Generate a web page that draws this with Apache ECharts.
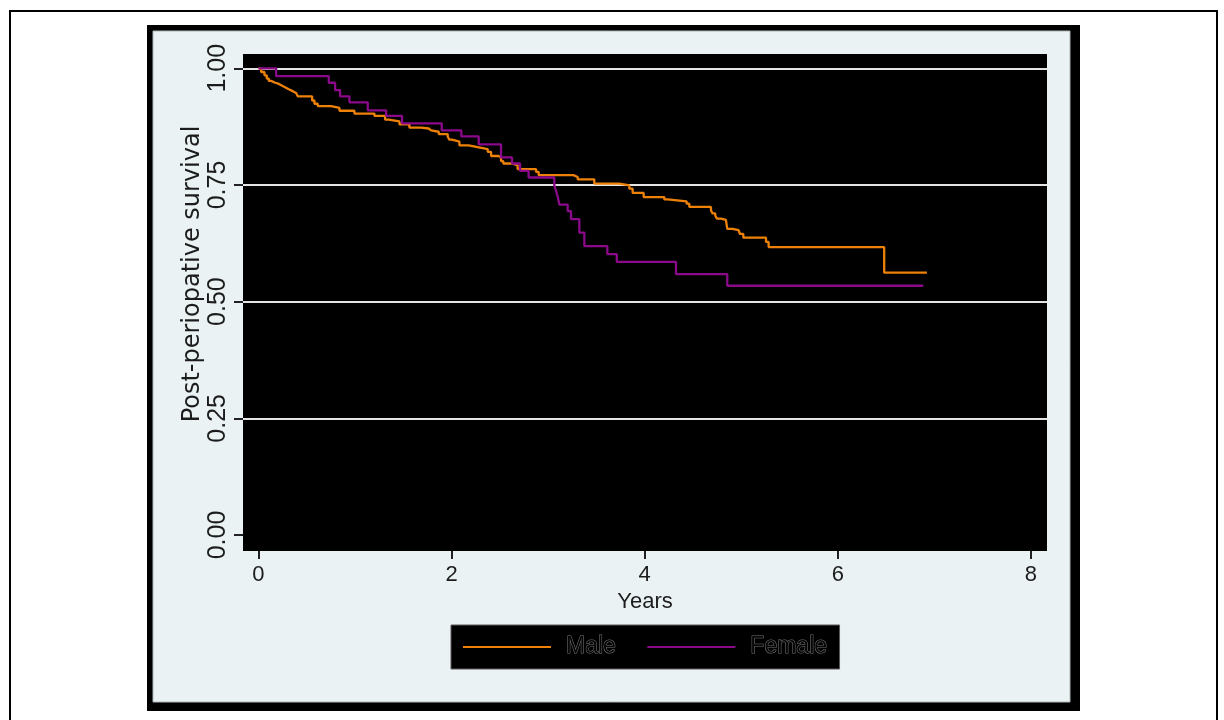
<!DOCTYPE html>
<html><head><meta charset="utf-8">
<script src="https://cdn.jsdelivr.net/npm/echarts@6/dist/echarts.min.js"></script>
<style>html,body{margin:0;padding:0;background:#fff}#c{width:1224px;height:720px}</style>
</head><body><div id="c"></div>
<script>
const seriesNames = ['Male', 'Female'];
const maleTime = [0, 0.028, 0.062, 0.086, 0.107, 0.131, 0.173, 0.207, 0.241, 0.280, 0.314, 0.355, 0.390, 0.407, 0.556, 0.580, 0.614, 0.752, 0.839, 0.994, 1.201, 1.311, 1.349, 1.460, 1.563, 1.684, 1.763, 1.788, 1.867, 1.960, 1.977, 2.005, 2.081, 2.177, 2.270, 2.374, 2.409, 2.488, 2.512, 2.536, 2.626, 2.684, 2.875, 2.902, 3.261, 3.306, 3.478, 3.737, 3.841, 3.875, 3.989, 4.203, 4.237, 4.434, 4.462, 4.686, 4.703, 4.731, 4.748, 4.790, 4.841, 4.855, 4.910, 4.972, 4.987, 5.021, 5.256, 5.283, 6.480, 6.922];
const maleSurv = [1, 0.992, 0.985, 0.978, 0.973, 0.969, 0.967, 0.963, 0.959, 0.955, 0.951, 0.947, 0.944, 0.940, 0.931, 0.924, 0.919, 0.915, 0.909, 0.903, 0.898, 0.890, 0.886, 0.880, 0.873, 0.871, 0.867, 0.864, 0.859, 0.854, 0.847, 0.843, 0.835, 0.831, 0.827, 0.821, 0.812, 0.809, 0.801, 0.796, 0.792, 0.784, 0.778, 0.771, 0.767, 0.762, 0.753, 0.749, 0.742, 0.733, 0.724, 0.719, 0.715, 0.710, 0.703, 0.696, 0.689, 0.684, 0.678, 0.675, 0.671, 0.656, 0.653, 0.651, 0.645, 0.637, 0.628, 0.617, 0.562, 0.562];
const femaleTime = [0, 0.183, 0.728, 0.794, 0.846, 0.942, 1.132, 1.322, 1.487, 1.898, 2.101, 2.281, 2.512, 2.626, 2.709, 2.798, 3.064, 3.082, 3.100, 3.116, 3.202, 3.237, 3.323, 3.375, 3.613, 3.711, 4.324, 4.855, 6.884];
const femaleSurv = [1, 0.983, 0.969, 0.953, 0.940, 0.927, 0.910, 0.898, 0.882, 0.867, 0.854, 0.837, 0.809, 0.796, 0.780, 0.766, 0.749, 0.737, 0.724, 0.708, 0.694, 0.677, 0.648, 0.619, 0.602, 0.585, 0.559, 0.534, 0.534];
const xTicks = [0, 2, 4, 6, 8];
const yTicks = [0, 0.25, 0.5, 0.75, 1];
const xTitle = 'Years';
const yTitle = 'Post-periopative survival';

const zip = (a, b) => a.map((v, i) => [v, b[i]]);
const txt = '#1c1c1c';
const chart = echarts.init(document.getElementById('c'), null, {renderer: 'canvas'});
chart.setOption({
  animation: false,
  backgroundColor: '#ffffff',
  grid: {left: 243, top: 54, right: 177, bottom: 169, show: true, backgroundColor: '#000000', borderWidth: 0, containLabel: false},
  graphic: [
    {type: 'rect', z: -100, shape: {x: 10, y: 11, width: 1207, height: 800}, style: {fill: '#ffffff', stroke: '#000000', lineWidth: 2}},
    {type: 'rect', z: -99, shape: {x: 147, y: 25, width: 933, height: 686}, style: {fill: '#000000'}},
    {type: 'rect', z: -98, shape: {x: 153, y: 31, width: 917, height: 671}, style: {fill: '#eaf2f3', stroke: '#aeb6b8', lineWidth: 1}},
    {type: 'text', z: 10, x: 193, y: 274, rotation: Math.PI / 2,
      style: {text: yTitle, font: '24px "DejaVu Sans"', fill: txt, align: 'center', verticalAlign: 'middle'}}
  ],
  legend: {
    left: 451, top: 625, orient: 'horizontal',
    backgroundColor: '#000000', borderColor: '#5a5a5a', borderWidth: 1,
    padding: [10, 12, 10, 11], itemWidth: 88, itemHeight: 24, itemGap: 30,
    itemStyle: {color: 'transparent', borderWidth: 0, opacity: 0},
    textStyle: {fontFamily: 'Liberation Sans', fontSize: 23, color: '#050505', textBorderColor: '#767676', textBorderWidth: 1, padding: [0, 0, 0, 10]},
    data: seriesNames
  },
  xAxis: {
    type: 'value', min: -0.16, max: 8.166,
    axisLine: {show: false, onZero: false},
    axisTick: {show: true, length: 8, lineStyle: {color: '#222', width: 2}, customValues: xTicks},
    axisLabel: {customValues: xTicks, margin: 13, fontSize: 22, fontFamily: 'Liberation Sans', color: txt},
    splitLine: {show: false},
    name: xTitle, nameLocation: 'middle', nameGap: 34,
    nameTextStyle: {fontSize: 22, fontFamily: 'Liberation Sans', color: txt}
  },
  yAxis: {
    type: 'value', min: -0.0343, max: 1.0306,
    axisLine: {show: false, onZero: false},
    axisTick: {show: true, length: 9, lineStyle: {color: '#222', width: 2}, customValues: yTicks},
    axisLabel: {customValues: yTicks, rotate: 90, margin: 12, fontSize: 25, fontFamily: 'Liberation Sans', color: txt,
      formatter: v => Number(v).toFixed(2)},
    splitLine: {show: true, lineStyle: {color: ['#000000', '#e4e4e4', '#e4e4e4', '#e4e4e4', '#e4e4e4'], width: 2}}
  },
  series: [
    {name: seriesNames[0], type: 'line', step: 'end', symbol: 'none', data: zip(maleTime, maleSurv),
      lineStyle: {color: '#ee8208', width: 2.3}, itemStyle: {color: '#ee8208'}},
    {name: seriesNames[1], type: 'line', step: 'end', symbol: 'none', data: zip(femaleTime, femaleSurv),
      lineStyle: {color: '#8a0a8a', width: 2.3}, itemStyle: {color: '#8a0a8a'}}
  ]
});
</script></body></html>
